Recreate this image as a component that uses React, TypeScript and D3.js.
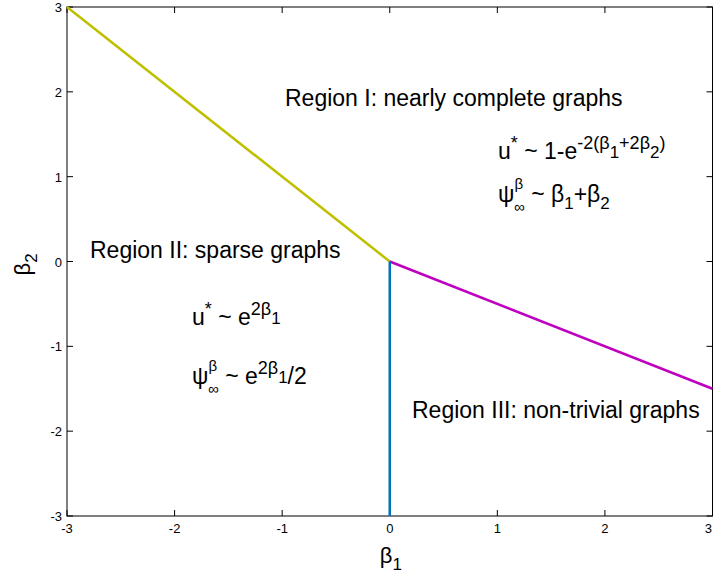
import React from "react";
import * as d3 from "d3";

// phase boundaries in the (beta1, beta2) plane
const yellowB1 = [-3, 0];
const yellowB2 = [3, 0];
const magentaB1 = [0, 3];
const magentaB2 = [0, -1.5];
const blueB1 = [0, 0];
const blueB2 = [0, -3];

const xTicks = [-3, -2, -1, 0, 1, 2, 3];
const yTicks = [-3, -2, -1, 0, 1, 2, 3];

const W = 713;
const H = 575;
const m = { left: 67, right: 0.5, top: 7, bottom: 59 };

type Seg = { t: string; lvl?: number; dx?: number };

// lvl: 0 base, 1 superscript, 2 subscript inside superscript, -1 subscript,
// 3 / -3 the stacked super/sub on psi
const offs: Record<number, number> = { 0: 0, 1: -10, 2: -1, [-1]: 7, 3: -13, [-3]: 10 };
const sizes: Record<number, number> = { 0: 23, 1: 18, 2: 17, [-1]: 17, 3: 15, [-3]: 15 };

const MathText = ({ x, y, segs, size = 23 }: { x: number; y: number; segs: Seg[]; size?: number }) => (
  <text x={x} y={y} fontSize={size}>
    {segs.map((s, i) => {
      const l = s.lvl ?? 0;
      return (
        <tspan key={i} y={y + offs[l]} dx={s.dx} fontSize={l === 0 ? size : sizes[l]}>
          {s.t}
        </tspan>
      );
    })}
  </text>
);

const App = () => {
  const x = d3.scaleLinear().domain([-3, 3]).range([m.left, W - m.right]);
  const y = d3.scaleLinear().domain([-3, 3]).range([H - m.bottom, m.top]);
  const line = d3
    .line<[number, number]>()
    .x((d) => x(d[0]))
    .y((d) => y(d[1]));
  const pts = (a: number[], b: number[]) => a.map((v, i) => [v, b[i]] as [number, number]);

  const x0 = x(-3), x1 = x(3), y0 = y(-3), y1 = y(3);
  const tk = 6;

  return (
    <svg
      width={W}
      height={H}
      style={{ position: "absolute", left: 0, top: 0, background: "#fff" }}
      fontFamily="'Liberation Sans', Arial, sans-serif"
    >
      <rect width={W} height={H} fill="#fff" />
      {/* ticks */}
      {xTicks.map((t, i) => (
        <g key={"x" + t}>
          <line x1={x(t)} x2={x(t)} y1={y0} y2={y0 - tk} stroke="#000" />
          <line x1={x(t)} x2={x(t)} y1={y1} y2={y1 + tk} stroke="#000" />
          <text
            x={i === xTicks.length - 1 ? W - 1 : x(t)}
            y={y0 + 17}
            fontSize={13}
            textAnchor={i === xTicks.length - 1 ? "end" : "middle"}
          >
            {t}
          </text>
        </g>
      ))}
      {yTicks.map((t) => (
        <g key={"y" + t}>
          <line x1={x0} x2={x0 + tk} y1={y(t)} y2={y(t)} stroke="#000" />
          <line x1={x1} x2={x1 - tk} y1={y(t)} y2={y(t)} stroke="#000" />
          <text x={x0 - 5} y={y(t) + 5} fontSize={13} textAnchor="end">
            {t}
          </text>
        </g>
      ))}
      <rect x={x0} y={y1} width={x1 - x0} height={y0 - y1} fill="none" stroke="#000" />

      <path d={line(pts(yellowB1, yellowB2)) ?? ""} stroke="#bfbf00" strokeWidth={2.5} fill="none" />
      <path d={line(pts(magentaB1, magentaB2)) ?? ""} stroke="#bf00bf" strokeWidth={2.5} fill="none" />
      <path d={line(pts(blueB1, blueB2)) ?? ""} stroke="#0072bd" strokeWidth={2.5} fill="none" />

      {/* axis labels */}
      <MathText x={x(0) - 10} y={563} size={22} segs={[{ t: "β" }, { t: "1", lvl: -1 }]} />
      <g transform={`translate(30, ${y(0) + 14}) rotate(-90)`}>
        <MathText x={0} y={0} size={22} segs={[{ t: "β" }, { t: "2", lvl: -1 }]} />
      </g>

      {/* region annotations */}
      <text x={285} y={106} fontSize={23}>Region I: nearly complete graphs</text>
      <MathText
        x={498}
        y={159}
        segs={[
          { t: "u" },
          { t: "*", lvl: 1 },
          { t: " ~ 1-e" },
          { t: "-2(β", lvl: 1 },
          { t: "1", lvl: 2 },
          { t: "+2β", lvl: 1 },
          { t: "2", lvl: 2 },
          { t: ")", lvl: 1 },
        ]}
      />
      <MathText
        x={498}
        y={202}
        segs={[
          { t: "ψ" },
          { t: "β", lvl: 3 },
          { t: "∞", lvl: -3, dx: -9 },
          { t: " ~ β" },
          { t: "1", lvl: -1 },
          { t: "+β" },
          { t: "2", lvl: -1 },
        ]}
      />

      <text x={90} y={258} fontSize={23}>Region II: sparse graphs</text>
      <MathText
        x={192}
        y={325}
        segs={[
          { t: "u" },
          { t: "*", lvl: 1 },
          { t: " ~ e" },
          { t: "2β", lvl: 1 },
          { t: "1", lvl: 2 },
        ]}
      />
      <MathText
        x={192}
        y={384}
        segs={[
          { t: "ψ" },
          { t: "β", lvl: 3 },
          { t: "∞", lvl: -3, dx: -9 },
          { t: " ~ e" },
          { t: "2β", lvl: 1 },
          { t: "1", lvl: 2 },
          { t: "/2" },
        ]}
      />

      <text x={412} y={418} fontSize={23}>Region III: non-trivial graphs</text>
    </svg>
  );
};

export default App;
